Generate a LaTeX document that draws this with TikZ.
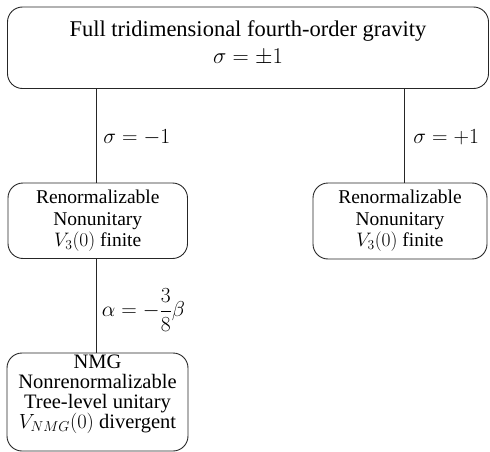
\RequirePackage{fix-cm}
\documentclass[tikz,border=0pt]{standalone}
\usepackage{amsmath}
\usepackage{fontspec}
\setmainfont{Liberation Serif}
\begin{document}
\begin{tikzpicture}[x=1pt,y=-1pt,
 box/.style={draw=black!85, rounded corners=15pt, line width=0.9pt, align=center, inner sep=0pt},
 conn/.style={draw=black!85, line width=0.9pt},
 lbl/.style={anchor=west, font=\fontsize{21.5}{23}\selectfont, inner sep=0pt}]
\useasboundingbox (0,0) rectangle (490,452);
\node[box, minimum width=481pt, minimum height=81.5pt, font=\fontsize{22.5}{27}\selectfont] (top) at (248,47.75)
  {Full tridimensional fourth-order gravity\\ $\sigma=\pm1$\rule[-12pt]{0pt}{1pt}};
\node[box, minimum width=179.5pt, minimum height=75.5pt, font=\fontsize{19.5}{21.5}\selectfont] (left) at (97.75,220.75)
  {Renormalizable\\ Nonunitary\\ $V_3(0)$ finite};
\node[box, minimum width=174pt, minimum height=76pt, font=\fontsize{19.5}{21.5}\selectfont] (right) at (400,221)
  {Renormalizable\\ Nonunitary\\ $V_3(0)$ finite};
\node[box, minimum width=181pt, minimum height=98pt, font=\fontsize{20.5}{20}\selectfont] (bot) at (97.5,402)
  {NMG\\ Nonrenormalizable\\ Tree-level unitary\\ $V_{NMG}(0)$ divergent\rule[-21.5pt]{0pt}{1pt}};
\coordinate (t1) at (96,88);
\coordinate (t2) at (404,88);
\draw[conn] (t1 |- top.south) -- (t1 |- left.north) node[pos=0.513, lbl, xshift=7pt] {$\sigma=-1$};
\draw[conn] (t2 |- top.south) -- (t2 |- right.north) node[pos=0.513, lbl, xshift=9pt] {$\sigma=+1$};
\draw[conn] (t1 |- left.south) -- (t1 |- bot.north) node[pos=0.545, lbl, xshift=5.5pt] {$\alpha=-\dfrac{3}{8}\beta$};
\end{tikzpicture}
\end{document}
